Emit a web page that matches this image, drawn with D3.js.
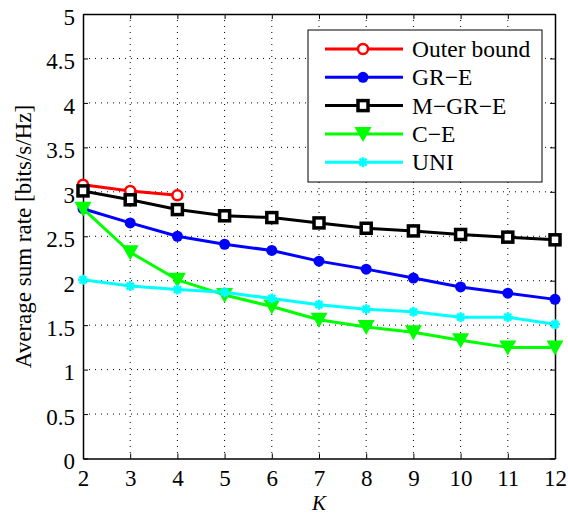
<!DOCTYPE html>
<html>
<head>
<meta charset="utf-8">
<script src="https://cdn.jsdelivr.net/npm/d3@7"></script>
</head>
<body style="margin:0">
<svg id="chart" width="568" height="516" font-family="Liberation Serif"></svg>
<script>
// data
const kValues = [2, 3, 4, 5, 6, 7, 8, 9, 10, 11, 12];
const outerBound = [3.08, 3.01, 2.96];
const grE = [2.81, 2.65, 2.50, 2.41, 2.34, 2.22, 2.13, 2.03, 1.93, 1.86, 1.79];
const mGrE = [3.01, 2.91, 2.80, 2.73, 2.71, 2.65, 2.59, 2.56, 2.52, 2.49, 2.46];
const cE = [2.81, 2.32, 2.01, 1.84, 1.71, 1.56, 1.48, 1.42, 1.33, 1.25, 1.25];
const uni = [2.01, 1.94, 1.90, 1.87, 1.80, 1.73, 1.68, 1.65, 1.59, 1.59, 1.51];
const xTicks = [2, 3, 4, 5, 6, 7, 8, 9, 10, 11, 12];
const yTicks = [0, 0.5, 1, 1.5, 2, 2.5, 3, 3.5, 4, 4.5, 5];
const seriesNames = ["Outer bound", "GR\u2212E", "M\u2212GR\u2212E", "C\u2212E", "UNI"];

const series = [
    {name: seriesNames[0], values: outerBound, color: "#ff0000", marker: "circleOpen"},
    {name: seriesNames[1], values: grE, color: "#0000ff", marker: "circle"},
    {name: seriesNames[2], values: mGrE, color: "#000000", marker: "square"},
    {name: seriesNames[3], values: cE, color: "#00ff00", marker: "triangle"},
    {name: seriesNames[4], values: uni, color: "#00ffff", marker: "star"}
];

const FONT = "Liberation Serif";

const margin = {top: 14, right: 13, bottom: 57.5, left: 83};
const width = 568 - margin.left - margin.right,
      height = 516 - margin.top - margin.bottom;

const svg = d3.select("#chart");
const g = svg.append("g").attr("transform", `translate(${margin.left},${margin.top})`);

const x = d3.scaleLinear().domain([2, 12]).range([0, width]);
const y = d3.scaleLinear().domain([0, 5]).range([height, 0]);

// dotted grid
g.append("g").selectAll("line")
    .data(xTicks.slice(1, -1))
    .enter().append("line")
    .attr("x1", d => x(d)).attr("x2", d => x(d))
    .attr("y1", 0).attr("y2", height)
    .attr("stroke", "#000").attr("stroke-width", 1)
    .attr("stroke-dasharray", "1,5");
g.append("g").selectAll("line")
    .data(yTicks.slice(1, -1))
    .enter().append("line")
    .attr("x1", 0).attr("x2", width)
    .attr("y1", d => y(d)).attr("y2", d => y(d))
    .attr("stroke", "#000").attr("stroke-width", 1)
    .attr("stroke-dasharray", "1,5");

// axes, ticks inside, box on
let axes = [];
axes.push(g.append("g").attr("transform", `translate(0,${height})`)
    .call(d3.axisBottom(x).tickValues(xTicks).tickSize(-5).tickPadding(11).tickSizeOuter(0)));
let yAxis = g.append("g")
    .call(d3.axisLeft(y).tickValues(yTicks).tickSize(-5).tickPadding(8).tickSizeOuter(0)
        .tickFormat(d => String(d)));
axes.push(yAxis);
axes.push(g.append("g").call(d3.axisTop(x).tickValues(xTicks).tickSize(-5).tickFormat("").tickSizeOuter(0)));
axes.push(g.append("g").attr("transform", `translate(${width},0)`)
    .call(d3.axisRight(y).tickValues(yTicks).tickSize(-5).tickFormat("").tickSizeOuter(0)));
axes.forEach(a => a.attr("font-family", FONT).attr("font-size", 23));

g.selectAll(".domain").attr("stroke", "#000").attr("stroke-width", 1.5);
g.selectAll(".tick line").attr("stroke", "#000");
g.selectAll(".tick text")
    .attr("font-family", FONT)
    .attr("fill", "#000");
yAxis.selectAll(".tick text").attr("dy", "0.45em");

// axis titles
svg.append("text")
    .attr("x", margin.left + width / 2)
    .attr("y", 510)
    .attr("text-anchor", "middle")
    .attr("font-family", FONT)
    .attr("font-size", 21)
    .attr("font-style", "italic")
    .text("K");
svg.append("text")
    .attr("transform", "translate(31,236.5) rotate(-90)")
    .attr("text-anchor", "middle")
    .attr("font-family", FONT)
    .attr("font-size", 23)
    .text("Average sum rate [bits/s/Hz]");

// markers
function drawMarker(sel, type, color) {
    if (type == "circleOpen") {
        sel.append("circle").attr("r", 5).attr("fill", "#fff")
            .attr("stroke", color).attr("stroke-width", 2.5);
    } else if (type == "circle") {
        sel.append("circle").attr("r", 5.5).attr("fill", color);
    } else if (type == "square") {
        sel.append("rect").attr("x", -5).attr("y", -5).attr("width", 10).attr("height", 10)
            .attr("fill", "#fff").attr("stroke", color).attr("stroke-width", 3.5);
    } else if (type == "triangle") {
        sel.append("path").attr("d", "M-8.5,-7L8.5,-7L0,8Z").attr("fill", color);
    } else if (type == "star") {
        sel.append("path").attr("d", "M-5,0L5,0M0,-5L0,5M-3.5,-3.5L3.5,3.5M-3.5,3.5L3.5,-3.5")
            .attr("stroke", color).attr("stroke-width", 2.5);
    }
}

const line = d3.line().x(d => x(d.k)).y(d => y(d.v));

series.forEach(function(s) {
    let pts = s.values.map((v, i) => ({k: kValues[i], v: v}));
    g.append("path")
        .datum(pts)
        .attr("d", line)
        .attr("fill", "none")
        .attr("stroke", s.color)
        .attr("stroke-width", 3)
        .attr("stroke-linejoin", "round");
    g.append("g").selectAll("g")
        .data(pts)
        .enter().append("g")
        .attr("transform", d => `translate(${x(d.k)},${y(d.v)})`)
        .each(function() { drawMarker(d3.select(this), s.marker, s.color); });
});

// legend
const legend = svg.append("g").attr("transform", "translate(308,30)");
legend.append("rect")
    .attr("width", 234).attr("height", 152)
    .attr("fill", "#fff").attr("stroke", "#000").attr("stroke-width", 1);
series.forEach(function(s, i) {
    let ly = 19 + i * 28.3;
    let row = legend.append("g").attr("transform", `translate(0,${ly})`);
    row.append("line")
        .attr("x1", 17).attr("x2", 95).attr("y1", 0).attr("y2", 0)
        .attr("stroke", s.color).attr("stroke-width", 3);
    drawMarker(row.append("g").attr("transform", "translate(55,0)"), s.marker, s.color);
    row.append("text")
        .attr("x", 104).attr("y", 8)
        .attr("font-family", FONT)
        .attr("font-size", 23.5)
        .text(s.name);
});
</script>
</body>
</html>
